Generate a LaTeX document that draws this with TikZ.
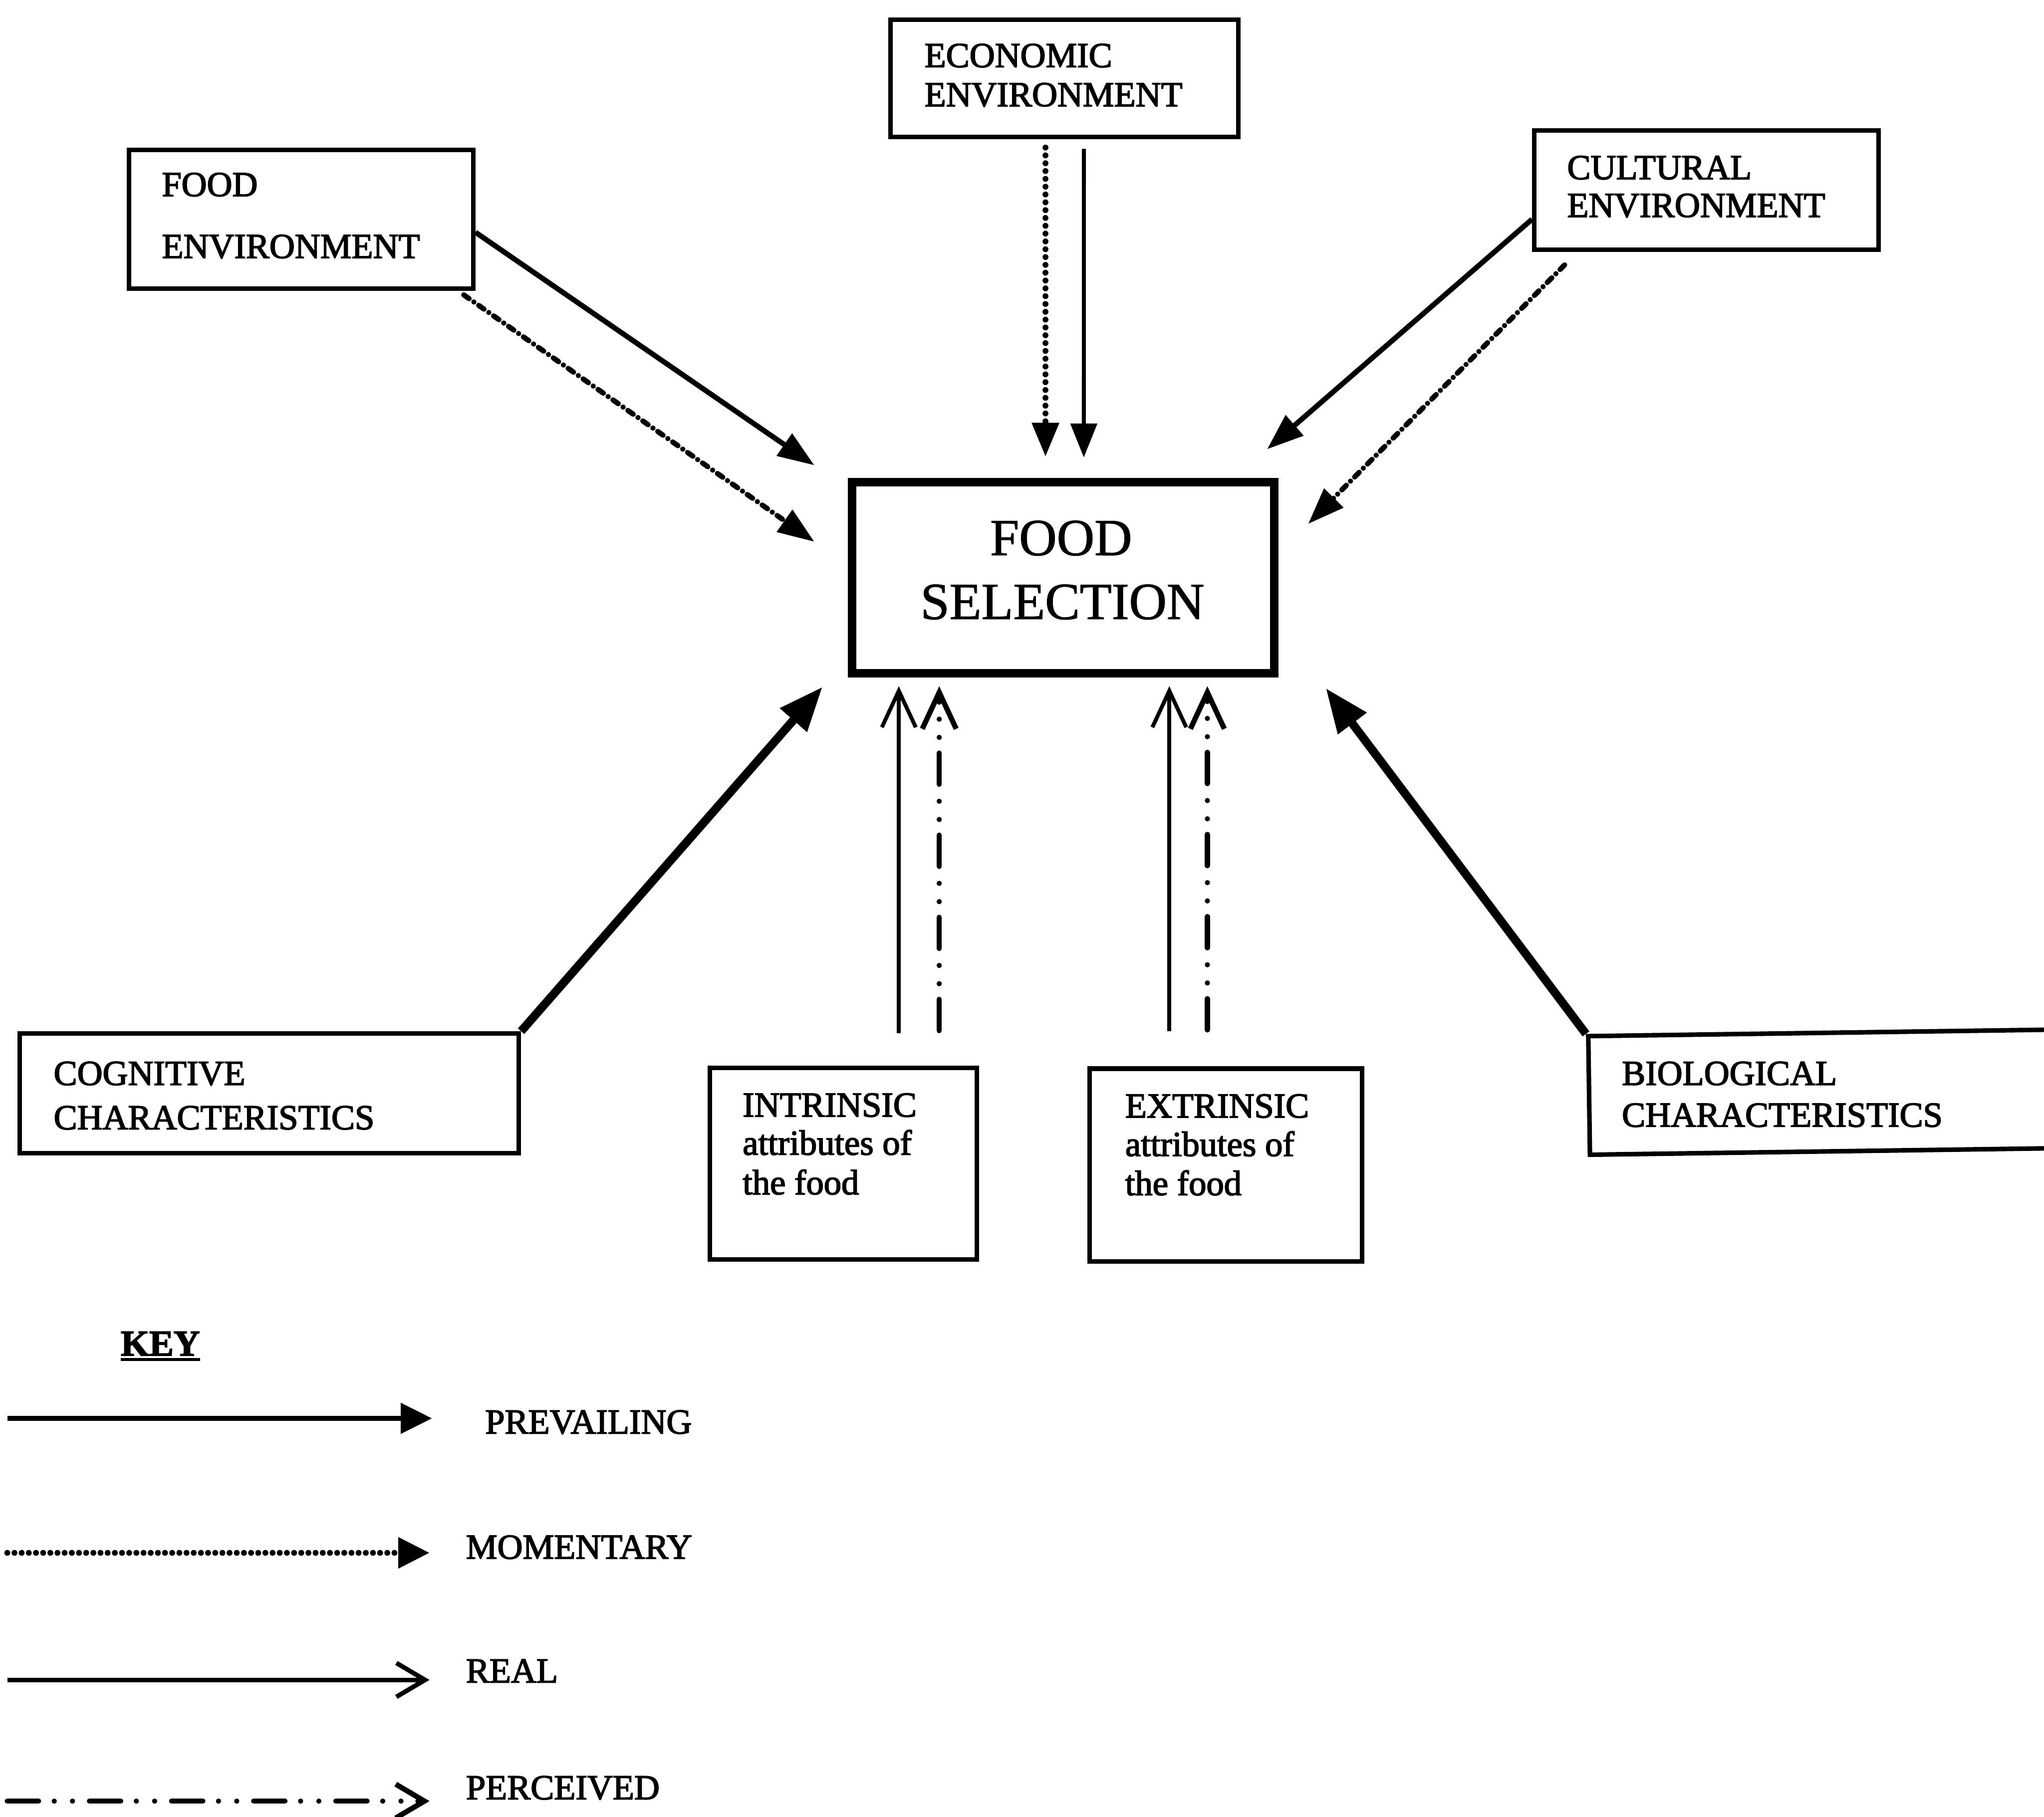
\documentclass[tikz,border=0pt]{standalone}
\usepackage{fontspec}
\setmainfont{Liberation Serif}
\newfontfamily\scanfont{Liberation Serif}[FakeBold=2.5]
\newfontfamily\scanfontb{Liberation Serif}[FakeBold=1.2]
\usetikzlibrary{arrows.meta}
\begin{document}
\begin{tikzpicture}[x=1pt,y=-1pt,
  box/.style={draw, line width=3.5pt, rectangle, inner sep=0pt},
  selbox/.style={draw, line width=6.5pt, rectangle, inner sep=0pt},
  txt/.style={anchor=base west, inner sep=0pt, font=\scanfont\fontsize{27pt}{30pt}\selectfont},
  bigtxt/.style={anchor=base, inner sep=0pt, font=\scanfontb\fontsize{40pt}{48pt}\selectfont},
  prev/.style={line width=4pt, -{Triangle[length=28pt,width=20pt]}},
  prevthin/.style={line width=3pt, -{Triangle[length=26pt,width=20pt]}},
  prevthick/.style={line width=6.5pt, -{Triangle[length=34pt,width=26pt]}},
  momdot/.style={line width=4.5pt, line cap=round, dash pattern=on 0pt off 6pt, -{Triangle[length=26pt,width=20pt]}},
  momdash/.style={line width=4pt, line cap=round, dash pattern=on 5pt off 4.5pt on 0pt off 4.5pt, -{Triangle[length=28pt,width=20pt]}},
  real/.style={line width=3pt, -{Straight Barb[length=28pt,width=26pt]}},
  perc/.style={line width=4pt, line cap=round, dash pattern=on 24pt off 12pt on 0pt off 14pt on 0pt off 13pt, -{Straight Barb[length=28pt,width=26pt]}},
  keyprev/.style={line width=3.5pt, -{Triangle[length=24pt,width=23pt]}},
  keymom/.style={line width=4.5pt, line cap=round, dash pattern=on 0pt off 5.5pt, -{Triangle[length=24pt,width=23pt]}},
  keyreal/.style={line width=3.5pt, -{Straight Barb[length=22pt,width=26pt]}},
  keyperc/.style={line width=4pt, line cap=round, dash pattern=on 24pt off 12pt on 0pt off 14pt on 0pt off 13pt, -{Straight Barb[length=22pt,width=26pt]}}
]
\useasboundingbox (0,0) rectangle (1568,1394);
\fill[white] (0,0) rectangle (1568,1394);
\clip (0,0) rectangle (1568,1394);

% boxes
\node[box, minimum width=264pt, minimum height=106.5pt] (foodenv) at (231,168.25) {};
\node[box, minimum width=267pt, minimum height=90pt] (econ) at (816.5,60) {};
\node[box, minimum width=264pt, minimum height=91.5pt] (cult) at (1309,145.75) {};
\node[selbox, minimum width=324pt, minimum height=146.5pt] (foodsel) at (815.5,443.2) {};
\node[box, minimum width=383pt, minimum height=92pt] (cog) at (206.5,839) {};
\node[box, minimum width=205pt, minimum height=146.7pt] (intr) at (647,892.9) {};
\node[box, minimum width=209pt, minimum height=148pt] (extr) at (940.5,894) {};
\node[box, rotate=0.8, minimum width=420pt, minimum height=91pt] (bio) at (1429,837.6) {};

% texts
\node[txt] (fe1) at (124,150.5) {FOOD};
\node[txt] (fe2) at (124,198) {ENVIRONMENT};
\node[txt] (ec1) at (709,51.5) {ECONOMIC};
\node[txt] (ec2) at (709,81.5) {ENVIRONMENT};
\node[txt] (cu1) at (1202,137.5) {CULTURAL};
\node[txt] (cu2) at (1202,166.5) {ENVIRONMENT};
\node[bigtxt] (fs1) at (814,426) {FOOD};
\node[bigtxt] (fs2) at (815,475) {SELECTION};
\node[txt] (co1) at (41,832.5) {COGNITIVE};
\node[txt] (co2) at (41,866.5) {CHARACTERISTICS};
\node[txt] (in1) at (569.5,856.8) {INTRINSIC};
\node[txt] (in2) at (569.5,886) {attributes of};
\node[txt] (in3) at (569.5,916.4) {the food};
\node[txt] (ex1) at (863,857.5) {EXTRINSIC};
\node[txt] (ex2) at (863,887) {attributes of};
\node[txt] (ex3) at (863,917) {the food};
\node[txt] (bi1) at (1244,832.5) {BIOLOGICAL};
\node[txt] (bi2) at (1244,864.5) {CHARACTERISTICS};

% arrow tips (free ends)
\coordinate (tfe1) at (624.7,357);
\coordinate (tfe2) at (624.7,415.7);
\coordinate (tec1) at (802,350.4);
\coordinate (tec2) at (831.4,351);
\coordinate (tcu1) at (972,344.7);
\coordinate (tcu2) at (1003.5,402);
\coordinate (tco) at (631,527);
\coordinate (tbi) at (1017,528);
\coordinate (tin1) at (689.5,526.5);
\coordinate (tin2) at (720.5,526.5);
\coordinate (tex1) at (897,526.5);
\coordinate (tex2) at (926.2,526.5);

% connectors
\draw[prev] ([yshift=-10pt]foodenv.east) -- (tfe1);
\draw[momdash] ([xshift=-9pt,yshift=-3pt]foodenv.south east) -- (tfe2);
\draw[momdot] ([xshift=-14.5pt,yshift=-6.5pt]econ.south) -- (tec1);
\draw[prevthin] ([xshift=15pt,yshift=-7.5pt]econ.south) -- (tec2);
\draw[prev] ([yshift=-22.5pt]cult.west) -- (tcu1);
\draw[momdash] ([xshift=25pt,yshift=-10pt]cult.south west) -- (tcu2);
\draw[prevthick] (cog.north east) -- (tco);
\draw[prevthick] (bio.north west) -- (tbi);
\draw[real] ([xshift=42.5pt,yshift=25pt]intr.north) -- (tin1);
\draw[perc] ([xshift=73.5pt,yshift=27pt]intr.north) -- (tin2);
\draw[real] ([xshift=-43.5pt,yshift=27pt]extr.north) -- (tex1);
\draw[perc] ([xshift=-14.3pt,yshift=28pt]extr.north) -- (tex2);

% key
\node[anchor=base west, inner sep=0pt, font=\scanfont\fontsize{28pt}{30pt}\selectfont\bfseries] (key) at (92.5,1040.2) {KEY};
\draw[line width=2.5pt] ([yshift=-3pt]key.base west) -- ([yshift=-3pt]key.base east);
\node[txt] (kl1) at (372,1100) {PREVAILING};
\node[txt] (kl2) at (357.3,1196) {MOMENTARY};
\node[txt] (kl3) at (357.3,1291) {REAL};
\node[txt] (kl4) at (357.3,1380.6) {PERCEIVED};
\coordinate (k1a) at (5.6,1088.3);
\coordinate (k1b) at (331.4,1088.3);
\coordinate (k2a) at (5.6,1191.5);
\coordinate (k2b) at (329.5,1191.5);
\coordinate (k3a) at (5.6,1289);
\coordinate (k3b) at (329.5,1289);
\coordinate (k4a) at (5.6,1382);
\coordinate (k4b) at (329.5,1382);
\draw[keyprev] (k1a) -- (k1b);
\draw[keymom] (k2a) -- (k2b);
\draw[keyreal] (k3a) -- (k3b);
\draw[keyperc] (k4a) -- (k4b);
\end{tikzpicture}
\end{document}
